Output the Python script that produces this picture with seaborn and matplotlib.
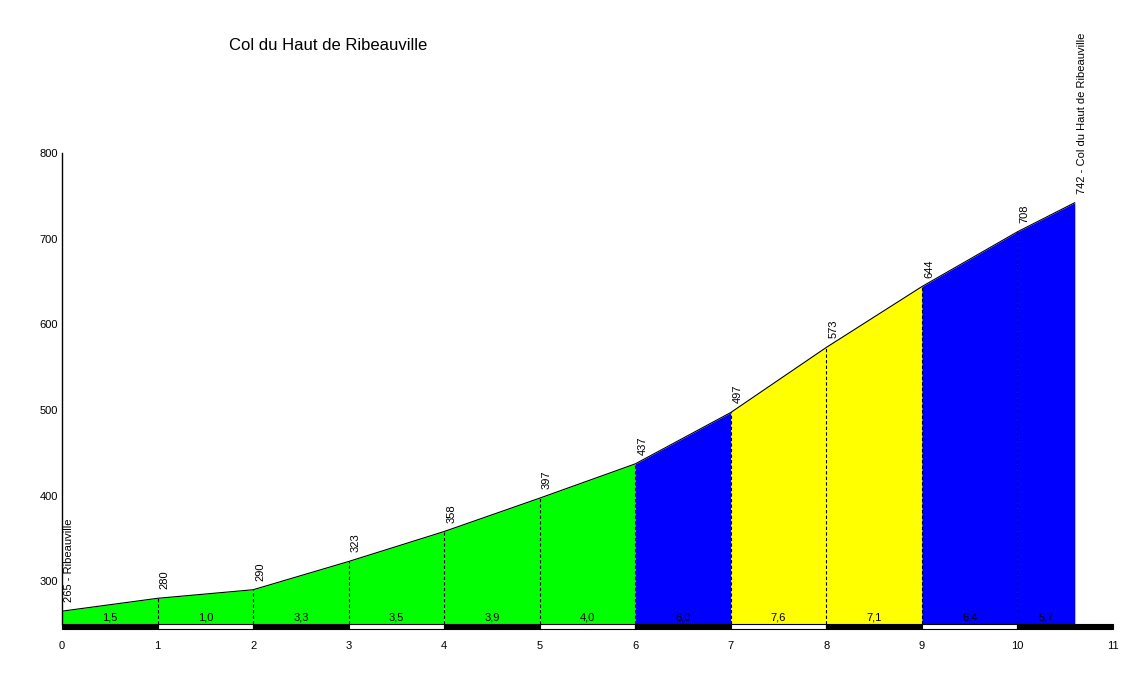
import numpy as np
import pandas as pd
import seaborn as sns
import matplotlib.pyplot as plt
from matplotlib.patches import Rectangle

km = [0, 1, 2, 3, 4, 5, 6, 7, 8, 9, 10, 10.6]
alt = [265, 280, 290, 323, 358, 397, 437, 497, 573, 644, 708, 742]
pentes = ["1,5", "1,0", "3,3", "3,5", "3,9", "4,0", "6,0", "7,6", "7,1", "6,4", "5,7"]
couleurs = ["#00ff00"] * 6 + ["#0000ff", "#ffff00", "#ffff00", "#0000ff", "#0000ff"]

sns.set_style("white")
plt.rcParams["font.family"] = ["Liberation Sans", "DejaVu Sans"]
plt.rcParams["text.color"] = "black"
plt.rcParams["xtick.color"] = "black"
plt.rcParams["ytick.color"] = "black"

fig = plt.figure(figsize=(11.36, 6.73), dpi=100)
ax = fig.add_axes([62 / 1136, 1 - 624 / 673, 1051 / 1136, 471 / 673])

data = pd.DataFrame({"km": km, "alt": alt})
ymin = 250

for i in range(len(km) - 1):
    ax.fill_between(km[i:i + 2], alt[i:i + 2], ymin, color=couleurs[i], lw=0)
    ax.text((km[i] + km[i + 1]) / 2, ymin + 2, pentes[i], ha="center", va="bottom",
            fontsize=8, color="black")

sns.lineplot(data=data, x="km", y="alt", color="black", lw=0.8, ax=ax)

for x, y in zip(km[1:-1], alt[1:-1]):
    ax.plot([x, x], [ymin, y], color="black", lw=0.8, ls=(0, (3, 2)))
    ax.annotate(str(y), (x, y), xytext=(2, 9), textcoords="offset pixels", rotation=90,
                ha="left", va="bottom", fontsize=8, color="black")

ax.annotate(f"{alt[0]} - Ribeauville", (km[0], alt[0]), xytext=(2, 9), textcoords="offset pixels",
            rotation=90, ha="left", va="bottom", fontsize=8, color="black")
ax.annotate(f"{alt[-1]} - Col du Haut de Ribeauville", (km[-1], alt[-1]), xytext=(2, 9),
            textcoords="offset pixels", rotation=90, ha="left", va="bottom", fontsize=8,
            color="black", annotation_clip=False)

# barre des kilometres
for k in range(11):
    ax.add_patch(Rectangle((k, ymin - 6), 1, 6, facecolor="black" if k % 2 == 0 else "white",
                           edgecolor="black", lw=0.8, clip_on=False))

ax.set_xlim(0, 11)
ax.set_ylim(ymin, 800)
ax.set_xticks(range(12))
ax.set_yticks([300, 400, 500, 600, 700, 800])
ax.tick_params(axis="x", length=0, pad=12, labelsize=8)
ax.tick_params(axis="y", direction="in", length=4, color="red", labelsize=8, pad=3)
ax.set_xlabel("")
ax.set_ylabel("")
for s in ["top", "right", "bottom"]:
    ax.spines[s].set_visible(False)
ax.spines["left"].set_color("black")
ax.spines["left"].set_linewidth(1)

fig.text(328 / 1136, 1 - 45 / 673, "Col du Haut de Ribeauville", ha="center", va="center",
         fontsize=12, color="black")

plt.savefig("out.png", dpi=100)
